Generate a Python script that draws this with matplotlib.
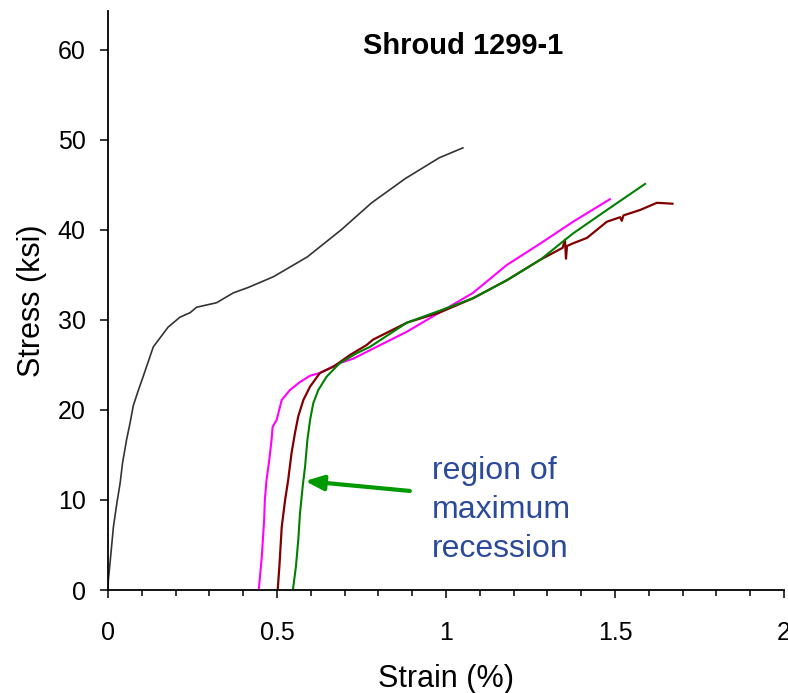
import matplotlib
matplotlib.use("Agg")
import matplotlib.pyplot as plt
from matplotlib.ticker import MultipleLocator, FixedLocator, FixedFormatter

plt.rcParams['font.family'] = ['Liberation Sans', 'DejaVu Sans']

# ---- data (strain %, stress ksi) ----
black_x = [0.0, 0.001, 0.006, 0.016, 0.026, 0.036, 0.043, 0.055, 0.065, 0.075, 0.09, 0.104,
           0.124, 0.134, 0.154, 0.178, 0.213, 0.243, 0.262, 0.321, 0.371, 0.415, 0.49, 0.59,
           0.69, 0.78, 0.88, 0.98, 1.05]
black_y = [0.0, 1.1, 3.0, 7.0, 9.6, 11.9, 14.1, 16.7, 18.5, 20.5, 22.2, 23.7,
           25.9, 27.0, 28.0, 29.2, 30.3, 30.8, 31.4, 31.9, 33.0, 33.6, 34.8, 37.0,
           40.0, 43.0, 45.7, 48.0, 49.1]

magenta_x = [0.446, 0.455, 0.462, 0.464, 0.469, 0.477, 0.484, 0.487, 0.499, 0.514, 0.538,
             0.568, 0.598, 0.627, 0.686, 0.726, 0.784, 0.885, 0.98, 1.08, 1.18, 1.28, 1.376, 1.485]
magenta_y = [0.0, 3.7, 7.8, 10.0, 12.2, 14.4, 16.7, 18.1, 18.9, 21.1, 22.2,
             23.1, 23.8, 24.1, 25.2, 25.7, 26.8, 28.7, 30.8, 33.0, 36.1, 38.5, 40.9, 43.4]

red_x = [0.502, 0.507, 0.514, 0.524, 0.533, 0.543, 0.553, 0.563, 0.578, 0.598, 0.627, 0.667,
         0.716, 0.765, 0.784, 0.885, 0.98, 1.08, 1.18, 1.28, 1.345, 1.352, 1.355, 1.358, 1.376,
         1.417, 1.476, 1.515, 1.52, 1.525, 1.574, 1.624, 1.67]
red_y = [0.0, 2.6, 7.0, 10.0, 12.2, 15.2, 17.4, 19.3, 21.1, 22.6, 24.1, 24.8,
         26.1, 27.2, 27.8, 29.7, 30.8, 32.4, 34.4, 36.7, 38.0, 38.9, 36.8, 38.2, 38.5,
         39.1, 40.9, 41.4, 41.0, 41.6, 42.2, 43.0, 42.9]

green_x = [0.547, 0.556, 0.563, 0.568, 0.576, 0.583, 0.59, 0.598, 0.607, 0.622, 0.647, 0.686,
           0.736, 0.775, 0.885, 0.98, 1.08, 1.18, 1.28, 1.346, 1.376, 1.476, 1.589]
green_y = [0.0, 2.6, 5.6, 8.5, 11.5, 13.7, 16.7, 18.9, 20.7, 22.2, 23.7, 25.2,
           26.3, 27.0, 29.7, 31.0, 32.4, 34.4, 36.7, 38.7, 39.6, 42.2, 45.1]

x_ticks = [0, 0.5, 1, 1.5, 2]
x_tick_labels = ["0", "0.5", "1", "1.5", "2"]
y_ticks = [0, 10, 20, 30, 40, 50, 60]
y_tick_labels = ["0", "10", "20", "30", "40", "50", "60"]

fig = plt.figure(figsize=(7.88, 6.93), dpi=100)
ax = fig.add_axes([108 / 788, 103 / 693, (784 - 108) / 788, (590 - 11) / 693])

ax.plot(black_x, black_y, color='#333333', lw=1.2)
ax.plot(magenta_x, magenta_y, color='#FF00FF', lw=1.5)
ax.plot(red_x, red_y, color='#800000', lw=1.6)
ax.plot(green_x, green_y, color='#008000', lw=1.5)

ax.set_xlim(0, 2)
ax.set_ylim(0, 64.3)

ax.spines['top'].set_visible(False)
ax.spines['right'].set_visible(False)
for s in ('left', 'bottom'):
    ax.spines[s].set_linewidth(1.3)
    ax.spines[s].set_color('black')

ax.xaxis.set_major_locator(FixedLocator(x_ticks))
ax.xaxis.set_major_formatter(FixedFormatter(x_tick_labels))
ax.xaxis.set_minor_locator(MultipleLocator(0.1))
ax.yaxis.set_major_locator(FixedLocator(y_ticks))
ax.yaxis.set_major_formatter(FixedFormatter(y_tick_labels))

ax.tick_params(axis='x', which='major', direction='out', length=6, width=1.1, pad=16, labelsize=18)
ax.tick_params(axis='x', which='minor', direction='out', length=4.5, width=1.1)
ax.tick_params(axis='y', which='major', direction='out', length=6, width=1.1, pad=10, labelsize=18)

ax.set_xlabel("Strain (%)", fontsize=22, labelpad=14)
ax.set_ylabel("Stress (ksi)", fontsize=22, labelpad=8)

ax.text(1.05, 60.4, "Shroud 1299-1", fontsize=21, fontweight='bold', ha='center', va='center')

ax.text(0.959, 8.9, "region of\nmaximum\nrecession", fontsize=23, color='#2B4A9A',
        ha='left', va='center', linespacing=1.38)

ax.annotate("", xy=(0.583, 12.1), xytext=(0.893, 11.0),
            arrowprops=dict(arrowstyle='-|>,head_length=1.1,head_width=0.45',
                            color='#009900', lw=3, shrinkA=0, shrinkB=0))

fig.savefig("out.png", dpi=100)
